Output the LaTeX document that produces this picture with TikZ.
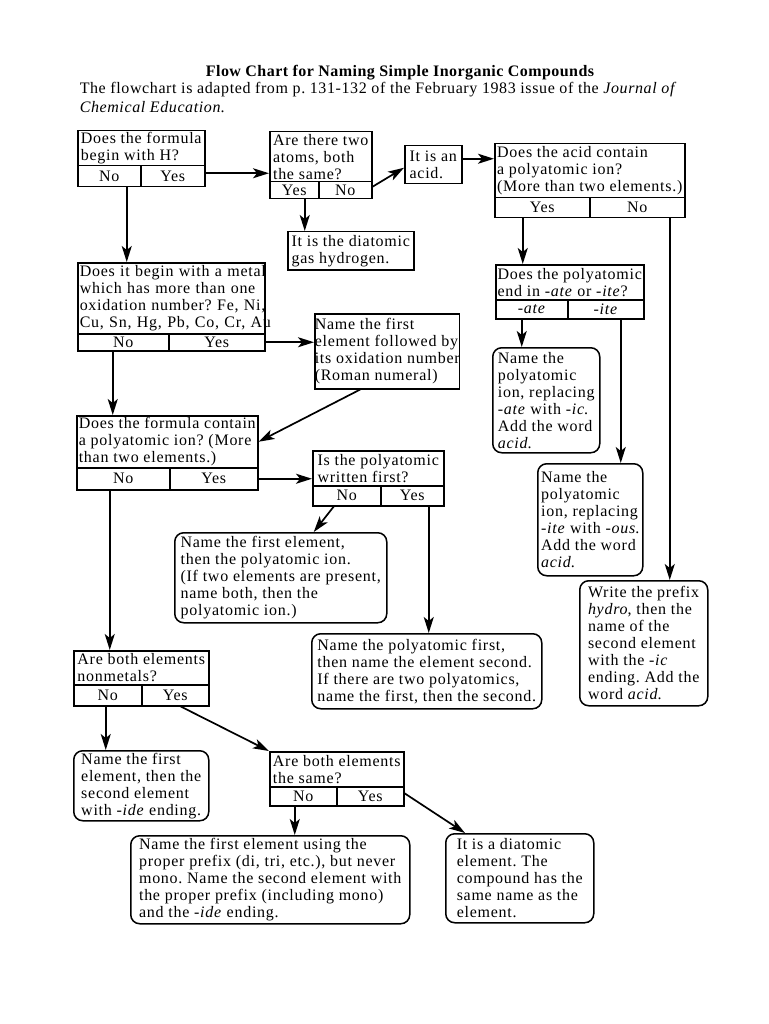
\documentclass[tikz,border=0pt]{standalone}
\usepackage{fontspec}
\setmainfont{Liberation Serif}
\newfontfamily\boxfont[LetterSpace=4.6]{Liberation Serif}
\newfontfamily\introfont[LetterSpace=3.8]{Liberation Serif}
\newfontfamily\titlefont[LetterSpace=2.8]{Liberation Serif}
\usetikzlibrary{arrows.meta}
\frenchspacing

\begin{document}
\begin{tikzpicture}[x = 1pt, y = -1pt, line width = 1.5pt,
	every node/.style = {inner sep = 0pt, font = \boxfont\fontsize{16}{17}\selectfont},
	question/.style = {draw, anchor = north west, align = left},
	cell/.style = {draw, anchor = north west, align = center},
	plainbox/.style = {draw, anchor = north west, align = left},
	answer/.style = {draw, anchor = north west, align = left, rounded corners = 9pt},
	flow/.style = {-{Stealth[length = 16pt, width = 10pt, inset = 4pt]}, line width = 1.7pt}]

	\useasboundingbox (0, 0) rectangle (768, 1024);

	% heading
	\node (title) at (400, 73) [font = \titlefont\bfseries\fontsize{16}{19}\selectfont] {Flow Chart for Naming Simple Inorganic Compounds};
	\node (intro) at (79, 81) [anchor = north west, align = left, font = \introfont\fontsize{16}{19}\selectfont]
		{The flowchart is adapted from p. 131-132 of the February 1983 issue of the \textit{Journal of}\\
		 \textit{Chemical Education}.};

	% does it begin with H
	\node (A)     at ( 77, 130) [question, minimum width = 127, minimum height = 35] {Does the formula\\begin with H?};
	\node (A-no)  at ( 77, 165) [cell, minimum width =  63, minimum height = 21] {No};
	\node (A-yes) at (140, 165) [cell, minimum width =  64, minimum height = 21] {Yes};

	\node (B)     at (269, 131) [question, minimum width = 102, minimum height = 50] {Are there two\\atoms, both\\the same?};
	\node (B-yes) at (269, 181) [cell, minimum width =  49, minimum height = 17] {Yes};
	\node (B-no)  at (318, 181) [cell, minimum width =  53, minimum height = 17] {No};

	\node (hyd)   at (287, 231) [plainbox, minimum width = 126, minimum height = 38] {It is the diatomic\\gas hydrogen.};
	\node (acid)  at (404, 145) [plainbox, minimum width =  57, minimum height = 38] {It is an\\acid.};

	% acids
	\node (D)     at (494, 143) [question, minimum width = 190, minimum height = 54] {Does the acid contain\\a polyatomic ion?\\(More than two elements.)};
	\node (D-yes) at (494, 197) [cell, minimum width =  95, minimum height = 20] {Yes};
	\node (D-no)  at (589, 197) [cell, minimum width =  95, minimum height = 20] {No};

	\node (E)     at (495, 264) [question, minimum width = 148, minimum height = 35] {Does the polyatomic\\end in \textit{-ate} or \textit{-ite}?};
	\node (E-ate) at (495, 299) [cell, minimum width =  72, minimum height = 19] {\textit{-ate}};
	\node (E-ite) at (567, 299) [cell, minimum width =  76, minimum height = 19] {\textit{-ite}};

	\node (F) at (492, 347) [answer, minimum width = 107, minimum height = 105]
		{Name the\\polyatomic\\ion, replacing\\\textit{-ate} with \textit{-ic}.\\Add the word\\\textit{acid}.};
	\node (G) at (537, 463) [answer, minimum width = 105, minimum height = 112]
		{Name the\\polyatomic\\ion, replacing\\\textit{-ite} with \textit{-ous}.\\Add the word\\\textit{acid}.};
	\node (H) at (579, 580) [answer, minimum width = 128, minimum height = 125]
		{Write the prefix\\\textit{hydro}, then the\\name of the\\second element\\with the \textit{-ic}\\ending. Add the\\word \textit{acid}.};

	% metals
	\node (C)     at ( 77, 262) [question, minimum width = 187, minimum height = 71, text width = 183]
		{\mbox{Does it begin with a metal}\\\mbox{which has more than one}\\\mbox{oxidation number? Fe, Ni,}\\\mbox{Cu, Sn, Hg, Pb, Co, Cr, Au}};
	\node (C-no)  at ( 77, 333) [cell, minimum width =  91, minimum height = 17] {No};
	\node (C-yes) at (168, 333) [cell, minimum width =  96, minimum height = 17] {Yes};

	\node (I) at (314, 313) [plainbox, minimum width = 130, minimum height = 75]
		{Name the first\\element followed by\\its oxidation number\\(Roman numeral)};

	% polyatomic ions
	\node (J)     at ( 76, 415) [question, minimum width = 181, minimum height = 52] {Does the formula contain\\a polyatomic ion? (More\\than two elements.)};
	\node (J-no)  at ( 76, 467) [cell, minimum width =  93, minimum height = 22] {No};
	\node (J-yes) at (169, 467) [cell, minimum width =  88, minimum height = 22] {Yes};

	\node (K)     at (312, 450) [question, minimum width = 131, minimum height = 35] {Is the polyatomic\\written first?};
	\node (K-no)  at (312, 485) [cell, minimum width =  68, minimum height = 20] {No};
	\node (K-yes) at (380, 485) [cell, minimum width =  63, minimum height = 20] {Yes};

	\node (L) at (174, 532) [answer, minimum width = 212, minimum height = 90]
		{Name the first element,\\then the polyatomic ion.\\(If two elements are present,\\name both, then the\\polyatomic ion.)};
	\node (M) at (311, 633) [answer, minimum width = 230, minimum height = 75]
		{Name the polyatomic first,\\then name the element second.\\If there are two polyatomics,\\name the first, then the second.};

	% nonmetals
	\node (N)     at ( 73, 650) [question, minimum width = 135, minimum height = 34] {Are both elements\\nonmetals?};
	\node (N-no)  at ( 73, 684) [cell, minimum width =  68, minimum height = 21] {No};
	\node (N-yes) at (141, 684) [cell, minimum width =  67, minimum height = 21] {Yes};

	\node (O) at ( 73, 750) [answer, minimum width = 135, minimum height = 70]
		{Name the first\\element, then the\\second element\\with \textit{-ide} ending.};

	\node (P)     at (269, 751) [question, minimum width = 134, minimum height = 35] {Are both elements\\the same?};
	\node (P-no)  at (269, 786) [cell, minimum width =  67, minimum height = 19] {No};
	\node (P-yes) at (336, 786) [cell, minimum width =  67, minimum height = 19] {Yes};

	\node (Q) at (130, 835) [answer, minimum width = 279, minimum height = 88]
		{Name the first element using the\\proper prefix (di, tri, etc.), but never\\mono. Name the second element with\\the proper prefix (including mono)\\and the \textit{-ide} ending.};
	\node (R) at (445, 833) [answer, minimum width = 148, minimum height = 89]
		{It is a diatomic\\element. The\\compound has the\\same name as the\\element.};

	% straight down
	\foreach \from/\dx/\to in {A-no/17.5/C, B-yes/10.5/hyd, D-yes/-19.5/E, D-no/32.5/H, E-ate/-10/F, E-ite/15/G,
		C-no/-10.5/J, K-yes/16.5/M, J-no/-13.5/N, N-no/-2/O, P-no/-8.5/Q}
		\draw[flow] ([xshift = \dx pt]\from.south) -- ([xshift = \dx pt]\from.south |- \to.north);

	% across
	\draw[flow] ([yshift = 3pt]A-yes.east) -- ([yshift = 3pt]A-yes.east -| B.west);
	\draw[flow] ([yshift = 6pt]acid.east) -- ([yshift = 6pt]acid.east -| D.west);
	\draw[flow] (C-yes.east) -- (C-yes.east -| I.west);
	\draw[flow] (J-yes.east) -- (J-yes.east -| K.west);

	% slanted
	\draw[flow] ([yshift = 3.5pt]B-no.east) -- ([yshift = -3pt]acid.west);
	\draw[flow] ([xshift = -27pt]I.south) -- (J.east);
	\draw[flow] ([xshift = -13pt]K-no.south) -- ([xshift = 33pt]L.north);
	\draw[flow] ([xshift = 5.5pt]N-yes.south) -- (P.north west);
	\draw[flow] ([yshift = 3pt]P-yes.east) -- ([xshift = 20pt]R.north west);

\end{tikzpicture}
\end{document}
